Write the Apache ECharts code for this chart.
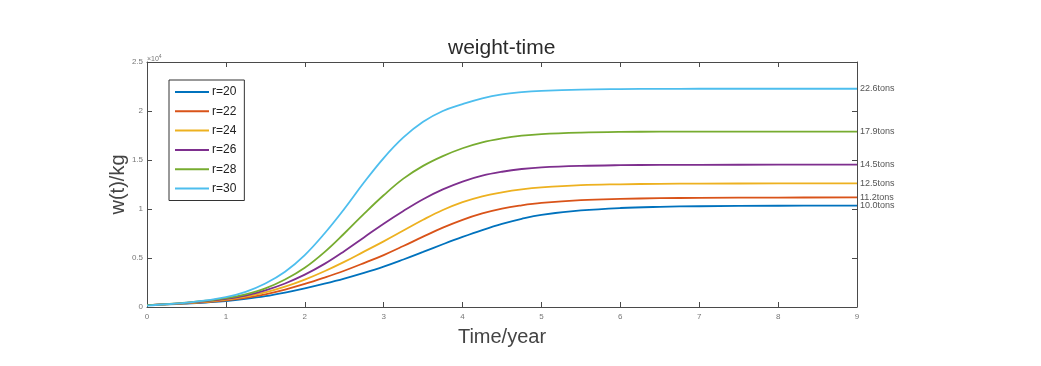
<!DOCTYPE html>
<html>
<head>
<meta charset="utf-8">
<script src="https://cdn.jsdelivr.net/npm/echarts@6/dist/echarts.min.js"></script>
<style>html,body{margin:0;padding:0;background:#fff}#c{width:1041px;height:366px}</style>
</head>
<body>
<div id="c"></div>
<script>
var years = [0, 0.25, 0.5, 0.75, 1, 1.25, 1.5, 1.75, 2, 2.25, 2.5, 2.75, 3, 3.25, 3.5, 3.75, 4, 4.25, 4.5, 4.75, 5, 5.5, 6, 6.5, 7, 8, 9];
var seriesNames = ['r=20', 'r=22', 'r=24', 'r=26', 'r=28', 'r=30'];
var endLabels = ['10.0tons', '11.2tons', '12.5tons', '14.5tons', '17.9tons', '22.6tons'];
var w20 = [200, 260, 350, 460, 600, 820, 1100, 1470, 1900, 2380, 2900, 3480, 4120, 4850, 5620, 6400, 7150, 7850, 8480, 9000, 9400, 9850, 10100, 10220, 10280, 10330, 10340];
var w22 = [200, 270, 380, 510, 680, 940, 1300, 1780, 2350, 3000, 3700, 4480, 5300, 6220, 7180, 8100, 8900, 9550, 10050, 10380, 10620, 10900, 11030, 11100, 11140, 11170, 11180];
var w24 = [200, 280, 400, 550, 750, 1070, 1500, 2080, 2800, 3650, 4600, 5650, 6700, 7800, 8900, 9900, 10700, 11300, 11700, 12000, 12200, 12430, 12520, 12570, 12590, 12610, 12610];
var w26 = [200, 290, 420, 590, 820, 1170, 1700, 2400, 3300, 4400, 5700, 7100, 8500, 9800, 11000, 12000, 12800, 13400, 13800, 14080, 14250, 14400, 14470, 14500, 14510, 14520, 14520];
var w28 = [200, 300, 440, 640, 900, 1300, 1900, 2800, 4000, 5600, 7500, 9500, 11400, 13100, 14400, 15400, 16200, 16800, 17200, 17480, 17650, 17800, 17870, 17890, 17900, 17900, 17900];
var w30 = [150, 280, 450, 680, 1000, 1550, 2400, 3600, 5300, 7500, 10000, 12700, 15200, 17300, 18900, 20000, 20700, 21300, 21700, 21920, 22050, 22190, 22240, 22260, 22270, 22270, 22270];
var yTicks = ['0', '0.5', '1', '1.5', '2', '2.5'];
var colors = ['#0072BD', '#D95319', '#EDB120', '#7E2F8E', '#77AC30', '#4DBEEE'];
var allW = [w20, w22, w24, w26, w28, w30];

var font = '"Liberation Sans", Arial, Helvetica, sans-serif';
var axisColor = '#4a4a4a';

function pairs(arr) { return years.map(function (t, i) { return [t, arr[i]]; }); }

var series = allW.map(function (arr, k) {
  return {
    name: seriesNames[k],
    type: 'line',
    data: pairs(arr),
    smooth: 0.4,
    showSymbol: false,
    symbol: 'none',
    xAxisIndex: 0,
    yAxisIndex: 0,
    lineStyle: { width: 1.8, color: colors[k] },
    itemStyle: { color: colors[k] },
    endLabel: {
      show: true,
      formatter: function () { return endLabels[k]; },
      distance: 3,
      fontSize: 9,
      color: '#555',
      fontFamily: font
    }
  };
});

var chart = echarts.init(document.getElementById('c'), null, { renderer: 'canvas' });
chart.setOption({
  animation: false,
  backgroundColor: '#fff',
  textStyle: { fontFamily: font },
  color: colors,
  title: {
    text: 'weight-time',
    left: 443,
    top: 33,
    textStyle: { fontSize: 21, fontWeight: 'normal', color: '#2b2b2b', fontFamily: font }
  },
  grid: { left: 147, right: 184, top: 62, bottom: 59, containLabel: false },
  legend: {
    orient: 'vertical',
    left: 169,
    top: 80,
    data: seriesNames,
    icon: 'rect',
    itemWidth: 34,
    itemHeight: 2,
    itemGap: 5.3,
    padding: [5, 8, 5, 6],
    borderColor: '#333',
    borderWidth: 1,
    backgroundColor: '#fff',
    textStyle: { fontSize: 12, lineHeight: 14, color: '#222', padding: [0, 0, 0, -2], fontFamily: font }
  },
  xAxis: [{
    type: 'value', min: 0, max: 9, interval: 1, position: 'bottom',
    name: 'Time/year', nameLocation: 'middle', nameGap: 20, nameMoveOverlap: false,
    nameTextStyle: { fontSize: 20, color: '#444', fontFamily: font },
    axisLine: { show: true, lineStyle: { color: axisColor, width: 1 } },
    axisTick: { show: true, inside: true, length: 5, lineStyle: { color: axisColor } },
    axisLabel: { fontSize: 8, color: '#777', margin: 6 },
    splitLine: { show: false }
  }, {
    type: 'value', min: 0, max: 9, interval: 1, position: 'top',
    axisLine: { show: true, onZero: false, lineStyle: { color: axisColor, width: 1 } },
    axisTick: { show: true, inside: true, length: 5, lineStyle: { color: axisColor } },
    axisLabel: { show: false },
    splitLine: { show: false }
  }],
  yAxis: [{
    type: 'value', min: 0, max: 25000, interval: 5000, position: 'left',
    name: 'w(t)/kg', nameLocation: 'middle', nameGap: 19, nameRotate: 90, nameMoveOverlap: false,
    nameTextStyle: { fontSize: 20, color: '#444', fontFamily: font },
    axisLine: { show: true, lineStyle: { color: axisColor, width: 1 } },
    axisTick: { show: true, inside: true, length: 5, lineStyle: { color: axisColor } },
    axisLabel: {
      fontSize: 8, color: '#777', margin: 4,
      formatter: function (v) { return yTicks[Math.round(v / 5000)]; }
    },
    splitLine: { show: false }
  }, {
    type: 'value', min: 0, max: 25000, interval: 5000, position: 'right',
    axisLine: { show: true, onZero: false, lineStyle: { color: axisColor, width: 1 } },
    axisTick: { show: true, inside: true, length: 5, lineStyle: { color: axisColor } },
    axisLabel: { show: false },
    splitLine: { show: false }
  }],
  graphic: [{
    type: 'text',
    left: 147,
    top: 54,
    style: {
      text: '{a|×10}{b|4}',
      rich: {
        a: { fontSize: 7, fill: '#777', fontFamily: font },
        b: { fontSize: 5, fill: '#777', fontFamily: font, verticalAlign: 'top', padding: [0, 0, 5, 0] }
      }
    }
  }],
  series: series
});
</script>
</body>
</html>
